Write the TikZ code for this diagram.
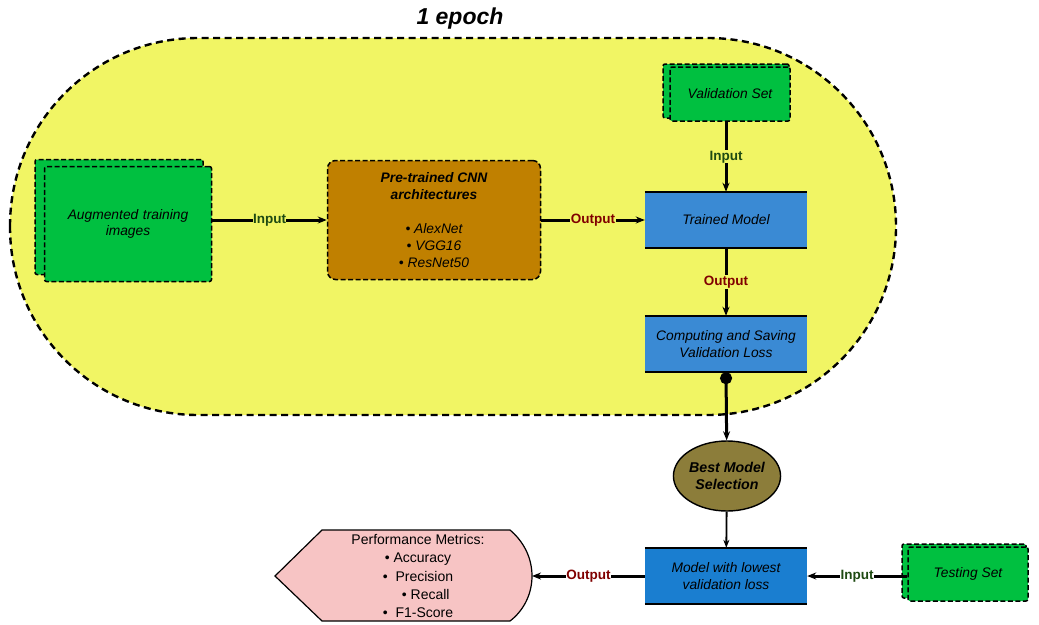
\documentclass[tikz,border=0pt]{standalone}
\usepackage{fontspec}
\setmainfont{Liberation Sans}
\usetikzlibrary{shapes.geometric}
\usetikzlibrary{arrows.meta}

\definecolor{epochYellow}{HTML}{F1F564}
\definecolor{setGreen}{HTML}{00C040}
\definecolor{cnnBrown}{HTML}{C08000}
\definecolor{modelBlue}{HTML}{3A8AD4}
\definecolor{lowestBlue}{HTML}{1A7ED0}
\definecolor{bestOlive}{HTML}{8C7D3A}
\definecolor{metricPink}{HTML}{F7C4C4}
\definecolor{inGreen}{HTML}{1E4A12}
\definecolor{outRed}{HTML}{800000}

\begin{document}
\begin{tikzpicture}
[x=1pt,y=-1pt,%
  every node/.style={inner sep=2pt,font=\fontsize{13.8}{16.5}\selectfont\itshape},%
  setbox/.style={draw,line width=1.5pt,dash pattern=on 5pt off 2.5pt,fill=setGreen,rounded corners=2pt},%
  blockbox/.style={fill=modelBlue,minimum width=162pt,minimum height=56pt,align=center},%
  flow/.style={line width=3pt,-{Stealth[length=9pt,width=7pt]}},%
  inlabel/.style={font=\fontsize{13.5}{15}\selectfont\bfseries,text=inGreen,inner sep=0.5pt},%
  outlabel/.style={font=\fontsize{13.5}{15}\selectfont\bfseries,text=outRed,inner sep=0.5pt}]
\useasboundingbox (0,0) rectangle (1039,624);
%% the epoch loop
\draw[fill=epochYellow,line width=2.4pt,dash pattern=on 7pt off 4.5pt,rounded corners=188pt]
  (10,38) rectangle (896,415);
\node[font=\fontsize{23}{26}\selectfont\bfseries\itshape] (epoch) at (460,19) {1 epoch};
%%
\node[setbox,minimum width=168pt,minimum height=115pt] (augBack) at (119,217) {};
\node[setbox,minimum width=167pt,minimum height=115pt,text width=150pt,align=center]
  (aug) at (128,224) {Augmented training\\images\\[7pt]};
%%
\node[setbox,fill=cnnBrown,rounded corners=8pt,minimum width=213pt,minimum height=119pt,
  align=center,font=\fontsize{13.8}{17}\selectfont\itshape] (cnn) at (434,220)
  {\textbf{Pre-trained CNN}\\\textbf{architectures}\\ \\\textbullet\ AlexNet\\\textbullet\ VGG16\\\textbullet\ ResNet50};
%%
\node[setbox,minimum width=126pt,minimum height=54pt] (valBack) at (726,91) {};
\node[setbox,minimum width=120pt,minimum height=54pt] (val) at (730,94) {Validation Set};
%%
\node[blockbox] (trained) at (726,220) {Trained Model};
\node[blockbox] (comp) at (726,344) {Computing and Saving\\Validation Loss};
%%
\node[ellipse,draw,line width=1.4pt,fill=bestOlive,minimum width=88pt,minimum height=70pt,
  inner sep=0pt,align=center,font=\fontsize{14.2}{17}\selectfont\bfseries\itshape]
  (best) at (727,476) {Best Model\\Selection};
%%
\node[blockbox,fill=lowestBlue] (lowest) at (726,576) {Model with lowest\\validation loss};
%%
\node[setbox,minimum width=124pt,minimum height=54pt] (testBack) at (964,571) {};
\node[setbox,minimum width=120pt,minimum height=54pt] (test) at (968,574) {Testing Set};
%%
\coordinate (perfTip) at (532,576);
\draw[line width=1.2pt,fill=metricPink] (275,576) -- (322,530) -- (510,530)
  .. controls (522,540) and (532,556) .. (perfTip)
  .. controls (532,596) and (522,612) .. (510,621) -- (322,621) -- cycle;
\node[align=center,font=\fontsize{14}{18.2}\selectfont] (perf) at (418,576)
  {Performance Metrics:\\\textbullet\ Accuracy\\\textbullet\ \ Precision\\\ \ \ \ \textbullet\ Recall\\\textbullet\ \ F1-Score};
%% blue block borders
\foreach \blk in {trained, comp, lowest}
{
  \draw[line width=2pt] (\blk.north west) -- (\blk.north east);
  \draw[line width=2pt] (\blk.south west) -- (\blk.south east);
}
%% connectors
\draw[flow] (aug.east |- cnn) -- node[inlabel,fill=epochYellow] {Input} (cnn);
\draw[flow] (cnn) -- node[outlabel,fill=epochYellow] {Output} (trained);
\draw[flow] (val.south -| trained) -- node[inlabel,fill=epochYellow] {Input} (trained);
\draw[flow] (trained) -- node[outlabel,fill=epochYellow] {Output} (comp);
\draw[line width=3pt,{Circle[length=12pt]}-{Stealth[length=9pt,width=7pt]}] (comp.south) -- (best);
\draw[line width=1.8pt,-{Stealth[length=8pt,width=6pt]}] (best) -- (lowest);
\draw[flow] (test.west |- lowest) -- node[inlabel,fill=white] {Input} (lowest);
\draw[flow] (lowest) -- node[outlabel,fill=white] {Output} (perfTip);
\end{tikzpicture}
\end{document}
